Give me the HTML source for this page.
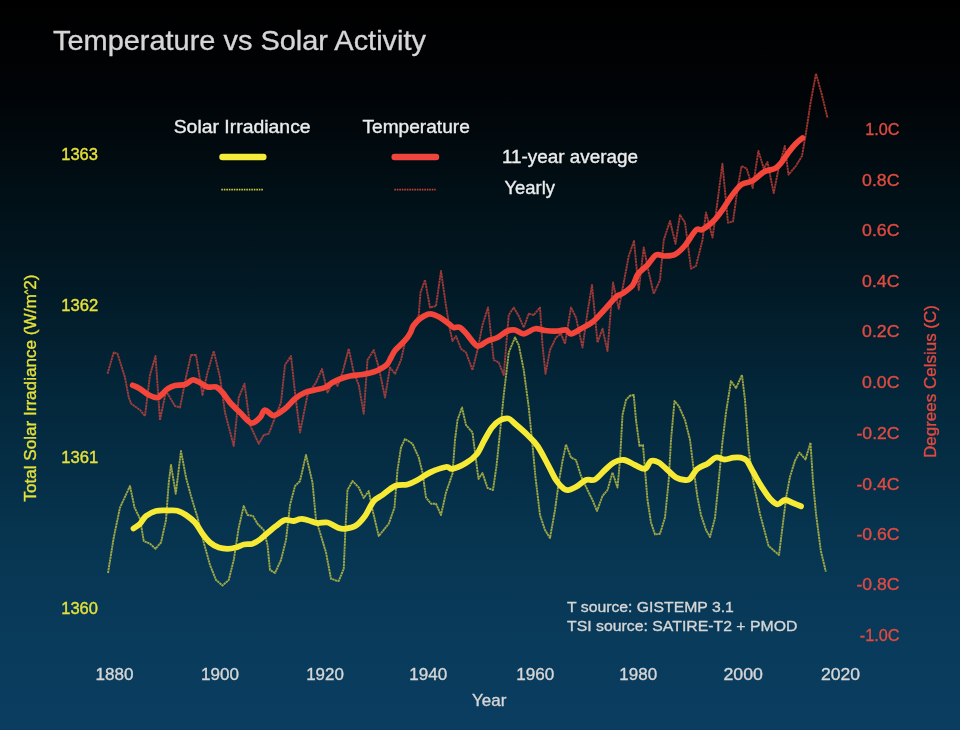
<!DOCTYPE html>
<html lang="en">
<head>
<meta charset="utf-8">
<title>Temperature vs Solar Activity</title>
<style>
html,body{margin:0;padding:0;background:#0b3d60;}
body{width:960px;height:730px;overflow:hidden;}
svg{display:block;font-family:"Liberation Sans",Arial,Helvetica,sans-serif;}
text{stroke-width:0.35px;}
.w{fill:#d6d6d6;stroke:#d6d6d6;}
.l{fill:#ececec;stroke:#ececec;}
.y{fill:#e6e13a;stroke:#e6e13a;}
.r{fill:#e04a40;stroke:#e04a40;}
</style>
</head>
<body>
<svg width="960" height="730" viewBox="0 0 960 730">
<defs>
<linearGradient id="bg" x1="0" y1="0" x2="0" y2="1">
<stop offset="0" stop-color="#000000"/>
<stop offset="0.05" stop-color="#000102"/>
<stop offset="0.13" stop-color="#010407"/>
<stop offset="0.27" stop-color="#011017"/>
<stop offset="0.39" stop-color="#021925"/>
<stop offset="0.53" stop-color="#032639"/>
<stop offset="0.76" stop-color="#073652"/>
<stop offset="0.89" stop-color="#093b5c"/>
<stop offset="1" stop-color="#0a3d60"/>
</linearGradient>
<filter id="soft" x="0" y="0" width="960" height="730" filterUnits="userSpaceOnUse"><feGaussianBlur stdDeviation="0.5"/></filter>
</defs>
<rect x="0" y="0" width="960" height="730" fill="url(#bg)"/>
<text class="w" transform="translate(52.99 49.50) scale(1.0192 1)" font-size="28.4">Temperature vs Solar Activity</text>
<text class="l" transform="translate(173.67 132.60) scale(1.1039 1)" font-size="17.6">Solar Irradiance</text>
<text class="l" transform="translate(362.43 132.60) scale(1.0875 1)" font-size="17.6">Temperature</text>
<text class="l" transform="translate(501.96 162.70) scale(1.0741 1)" font-size="17.6">11-year average</text>
<text class="l" transform="translate(504.48 194.30) scale(1.0471 1)" font-size="17.6">Yearly</text>
<text class="w" transform="translate(471.97 705.80) scale(1.0635 1)" font-size="16">Year</text>
<text class="w" transform="translate(567.05 612.30) scale(1.0184 1)" font-size="15.5">T source: GISTEMP 3.1</text>
<text class="w" transform="translate(567.04 630.90) scale(1.0207 1)" font-size="15.5">TSI source: SATIRE-T2 + PMOD</text>
<text class="y" transform="translate(61.21 159.60) scale(1.0311 1)" font-size="16">1363</text>
<text class="y" transform="translate(61.20 311.10) scale(1.0388 1)" font-size="16">1362</text>
<text class="y" transform="translate(61.20 462.60) scale(1.0388 1)" font-size="16">1361</text>
<text class="y" transform="translate(61.21 614.10) scale(1.0311 1)" font-size="16">1360</text>
<text class="r" transform="translate(865.13 135.30) scale(1.0156 1)" font-size="16">1.0C</text>
<text class="r" transform="translate(862.05 185.80) scale(1.1084 1)" font-size="16">0.8C</text>
<text class="r" transform="translate(862.05 236.30) scale(1.1084 1)" font-size="16">0.6C</text>
<text class="r" transform="translate(862.05 286.80) scale(1.1084 1)" font-size="16">0.4C</text>
<text class="r" transform="translate(862.05 337.30) scale(1.1084 1)" font-size="16">0.2C</text>
<text class="r" transform="translate(862.05 388.00) scale(1.1084 1)" font-size="16">0.0C</text>
<text class="r" transform="translate(856.47 439.20) scale(1.1020 1)" font-size="16">-0.2C</text>
<text class="r" transform="translate(856.47 489.90) scale(1.1020 1)" font-size="16">-0.4C</text>
<text class="r" transform="translate(856.47 540.30) scale(1.1020 1)" font-size="16">-0.6C</text>
<text class="r" transform="translate(856.47 590.00) scale(1.1020 1)" font-size="16">-0.8C</text>
<text class="r" transform="translate(859.74 640.90) scale(1.0172 1)" font-size="16">-1.0C</text>
<text class="w" transform="translate(95.47 679.60) scale(1.0667 1)" font-size="16">1880</text>
<text class="w" transform="translate(201.07 679.60) scale(1.0667 1)" font-size="16">1900</text>
<text class="w" transform="translate(306.18 679.60) scale(1.0578 1)" font-size="16">1920</text>
<text class="w" transform="translate(409.17 679.60) scale(1.0667 1)" font-size="16">1940</text>
<text class="w" transform="translate(516.17 679.60) scale(1.0667 1)" font-size="16">1960</text>
<text class="w" transform="translate(619.37 679.60) scale(1.0607 1)" font-size="16">1980</text>
<text class="w" transform="translate(723.47 679.60) scale(1.1095 1)" font-size="16">2000</text>
<text class="w" transform="translate(820.88 679.60) scale(1.0978 1)" font-size="16">2020</text>
<text class="y" transform="translate(36.00 501.65) rotate(-90) scale(1.0078 1)" font-size="17">Total Solar Irradiance (W/m<tspan font-size="9.5" dy="-5.5">^</tspan><tspan dy="5.5">2)</tspan></text>
<text class="r" transform="translate(935.80 457.95) rotate(-90) scale(0.9997 1)" font-size="17">Degrees Celsius (C)</text>
<line x1="222.5" y1="157" x2="263.3" y2="157" stroke="#f5ec3a" stroke-width="6.5" stroke-linecap="round"/>
<line x1="394.7" y1="157" x2="436" y2="157" stroke="#f0443c" stroke-width="6.5" stroke-linecap="round"/>
<line x1="221.3" y1="189.6" x2="263.7" y2="189.6" stroke="#c9c43a" stroke-width="1.6" stroke-dasharray="1.6 0.9"/>
<line x1="394.3" y1="189.6" x2="435.7" y2="189.6" stroke="#c4413a" stroke-width="1.6" stroke-dasharray="1.6 0.9"/>
<g filter="url(#soft)">
<polyline points="108,573 113.75,537.5 120,507.5 130,486 134.5,507.5 140,518.75 143.75,541 150,543.75 155.5,548.75 161,542.5 166,520 168.75,482.5 171,465 175.75,493.75 181,451 186,477.5 191,496 197.5,517.5 203.75,542.5 210,565 216,580 222.5,585.5 228.75,580 233.75,560 238.75,527.5 243.75,506 247.5,515 253,516 257.5,523.75 263.75,530 267.5,545 270,570 275,573 281,560 286,540 290,505 295,486 300,481 306,455 312.5,482.5 316,520 320,532.5 326,552.5 331,578.75 336,580.5 338.75,581 343.75,568.75 345.5,527.5 347.5,490 352.5,481 358.75,487.5 363.75,498 368.75,491 372.5,510 378.75,536 388.75,523.75 394.5,507.5 397.5,470 401,447.5 405,439 412.5,443.75 418.75,457.5 422.5,472.5 426,497.5 431,503.75 436,503.75 441,515 446,492.5 452.5,473.75 455,440 457.5,420 462,407.5 466,425 472.5,432.5 476,460 478.5,479 482.5,473 487.5,488 493,490 496.5,466 500,432.5 503.75,395 508.75,352.5 515,337.5 518.75,345 523.75,370 528.75,407.5 532.5,445 535.5,477.5 540,515 545,530 550,538 555,510 558.75,482.5 562.5,461 566,444.5 571,457.5 576,460 581,476 587.5,490 592.5,500 597,511 602.5,496 607.5,490 612.5,472.5 617.5,487.5 620,460 622.5,415 626,400 630,395.75 633.75,395 636,420 639.5,446 643,445 645,470 647.5,500 651,522.5 655,534.5 660,533.75 665,517.5 668.75,480 671,440 674.5,401 678.75,406 685,420 690,440 693.75,470 697.5,497.5 701,515 706,530 710,537 715,518 718.6,482 722.3,443.5 726,412.5 731,381 736,388 742,375 745,400 748.75,450 753.5,483 760,514 768.5,545.8 774,550.7 779,555 782.6,526 786.3,496.4 790,476.7 795,460.7 799.4,452.5 805.5,459.5 810.5,442.7 813,481.6 816,513.7 820.8,550.7 825.8,571.6" fill="none" stroke="#c3c444" stroke-opacity="0.8" stroke-width="1.9" stroke-dasharray="2.4 0.45" stroke-linejoin="round"/>
<polyline points="107.5,373.75 113.75,352.5 117.5,353.75 125,377.5 128.75,397.5 131.25,403.75 140,410 145,416 150,375 155.5,356 160,420 166,391 175,406 180,407.5 186,377.5 191,355 196,355 202.5,395 207.5,372.5 213.75,351 220,377.5 225,412.5 233.75,446 238.75,397.5 244.5,383.75 250,425 258.75,443.75 263.75,435 268.75,433.75 275,417.5 281,402.5 285,365 291,356 295,392.5 300,432.5 307.5,395 316,382.5 322,369 327.5,392.5 333.75,380 337.5,386 342.5,372.5 348.75,348.75 353.75,372.5 358.75,385 363.75,413.75 367.5,360 373.75,350 378.75,367.5 385,397.5 390,367.5 395,373.75 401,360 405,342.5 415,322.5 418.75,315 420.5,292.5 425,280 430,307.5 436,306 441,271 446,306 450,330 452.5,341 456,336 461,348.75 466,352.5 472.5,370 477.5,350 482.5,325 488,307.5 493.75,360 498.75,362.5 503.75,375 508.75,315 513.75,307.5 518.75,316 523.75,327.5 528.75,313.75 533.75,315 540,307.5 542.5,345 545.5,373.75 550,350 556,337.5 561,333.75 565,343.75 571,307.5 576,317.5 582.5,347.5 587.5,312.5 592,285 597.5,342.5 602.5,328.75 607.5,351 613,282.5 618.75,308.75 623.75,282.5 628.75,256 634,241 638.75,290 643.75,247.5 648.75,272.5 653.75,293.75 660,280 663.75,240 670,221 675.5,243.75 680,215 685,222.5 691,268.75 696,266 702.5,240 706,212.5 712.5,237.5 717,205.5 722.4,163.6 728,222.7 733,221.5 738,185.8 741.6,166 746.6,168.5 752.7,188 758.4,151 763.8,168.5 767.5,162 773.7,193 778.6,168.5 784.8,146 788.5,174.7 795.9,166 802,156 805.8,134 810.7,102 816,73.6 821.8,94.5 827.5,118" fill="none" stroke="#d4433c" stroke-opacity="0.75" stroke-width="1.9" stroke-dasharray="2.4 0.45" stroke-linejoin="round"/>
<path d="M133.5,528.5C134.6,527.7 137.9,525.8 140.0,523.8C142.1,521.7 143.3,518.1 146.0,516.0C148.7,513.9 152.4,511.9 156.0,511.0C159.6,510.1 163.9,510.5 167.5,510.5C171.1,510.5 174.4,510.0 177.5,510.8C180.6,511.5 183.1,513.0 186.0,515.0C188.9,517.0 192.2,519.4 195.0,522.5C197.8,525.6 200.0,530.4 202.5,533.8C205.0,537.1 207.3,540.2 210.0,542.5C212.7,544.8 215.8,546.5 218.8,547.5C221.7,548.5 224.6,548.8 227.5,548.8C230.4,548.8 233.3,548.2 236.0,547.5C238.7,546.8 241.0,545.1 243.8,544.5C246.5,543.9 249.8,544.6 252.5,543.8C255.2,542.9 257.5,541.3 260.0,539.5C262.5,537.7 264.8,535.2 267.5,533.0C270.2,530.8 273.1,528.2 276.0,526.0C278.9,523.8 282.0,520.8 285.0,520.0C288.0,519.2 291.1,521.2 293.8,521.0C296.4,520.8 298.5,518.8 301.0,518.8C303.5,518.7 306.0,519.8 308.8,520.5C311.5,521.2 314.4,522.7 317.5,523.0C320.6,523.3 324.2,521.8 327.5,522.5C330.8,523.2 334.6,526.5 337.5,527.5C340.4,528.5 341.9,529.1 345.0,528.8C348.1,528.4 352.7,527.6 356.0,525.5C359.3,523.4 362.0,520.1 365.0,516.0C368.0,511.9 370.8,504.5 373.8,501.0C376.7,497.5 379.0,497.5 382.5,495.0C386.0,492.5 390.8,487.8 395.0,486.0C399.2,484.2 403.8,485.5 407.5,484.5C411.2,483.5 413.8,482.0 417.5,480.0C421.2,478.0 425.2,474.7 430.0,472.5C434.8,470.3 442.2,467.6 446.0,467.0C449.8,466.4 449.2,469.4 452.5,468.8C455.8,468.1 462.0,465.4 466.0,463.0C470.0,460.6 473.4,458.3 476.5,454.5C479.6,450.7 481.9,444.5 484.5,440.0C487.1,435.5 489.4,430.8 492.0,427.5C494.6,424.2 497.2,421.8 500.0,420.3C502.8,418.8 506.0,417.9 508.5,418.5C511.0,419.1 511.8,421.0 515.0,423.8C518.2,426.5 523.8,431.3 527.5,435.0C531.2,438.7 534.2,441.2 537.5,446.0C540.8,450.8 544.4,458.1 547.5,463.8C550.6,469.4 553.3,475.8 556.0,480.0C558.7,484.2 561.6,487.1 563.8,488.8C565.9,490.4 566.5,490.5 568.8,490.0C571.0,489.5 574.6,487.7 577.5,486.0C580.4,484.3 583.1,481.1 586.0,480.0C588.9,478.9 591.8,481.2 595.0,479.5C598.2,477.8 601.9,472.8 605.0,470.0C608.1,467.2 610.6,464.2 613.8,462.5C616.9,460.8 620.2,459.6 623.8,460.0C627.3,460.4 631.5,463.5 635.0,465.0C638.5,466.5 642.3,469.4 645.0,468.8C647.7,468.1 648.7,462.0 651.0,461.0C653.3,460.0 656.0,461.0 658.8,462.5C661.5,464.0 664.6,467.5 667.5,470.0C670.4,472.5 673.1,475.8 676.0,477.5C678.9,479.2 682.7,479.8 685.0,480.0C687.3,480.2 687.9,480.6 690.0,478.8C692.1,476.9 694.6,471.2 697.5,468.8C700.4,466.2 704.4,465.6 707.5,463.8C710.6,461.9 713.1,458.2 716.0,457.5C718.9,456.8 721.8,459.5 724.7,459.5C727.6,459.5 730.6,458.0 733.3,457.7C736.0,457.4 738.5,457.2 740.7,457.7C743.0,458.2 744.8,458.3 746.8,460.7C748.8,463.1 750.5,467.5 753.0,471.8C755.5,476.1 758.7,482.1 761.6,486.6C764.5,491.1 767.6,496.1 770.3,499.0C773.0,501.9 775.2,504.1 777.7,504.3C780.2,504.5 782.3,500.2 785.0,500.0C787.7,499.8 791.0,502.2 793.7,503.3C796.4,504.4 799.8,505.8 801.0,506.3" fill="none" stroke="#f7ea36" stroke-width="5.8" stroke-linecap="round" stroke-linejoin="round"/>
<path d="M132.6,385.3C133.8,385.9 137.3,387.1 140.0,388.8C142.7,390.4 145.8,393.5 148.8,395.0C151.7,396.5 155.2,397.7 157.5,397.5C159.8,397.3 160.8,395.2 162.5,393.8C164.2,392.3 165.4,390.1 167.5,388.8C169.6,387.4 172.1,386.2 175.0,385.5C177.9,384.8 182.1,385.4 185.0,384.5C187.9,383.6 190.2,380.4 192.5,380.0C194.8,379.6 196.2,380.8 198.8,382.0C201.2,383.2 204.6,386.2 207.5,387.0C210.4,387.8 213.8,386.1 216.2,387.0C218.8,387.9 220.2,389.9 222.5,392.5C224.8,395.1 227.1,399.2 230.0,402.5C232.9,405.8 236.5,409.1 240.0,412.5C243.5,415.9 247.9,422.2 251.2,423.0C254.6,423.8 257.7,419.7 260.0,417.5C262.3,415.3 262.7,410.3 265.0,410.0C267.3,409.7 270.4,415.7 273.8,415.5C277.1,415.3 281.5,411.5 285.0,408.8C288.5,406.0 291.7,401.5 295.0,398.8C298.3,396.0 301.7,394.0 305.0,392.5C308.3,391.0 311.7,390.8 315.0,390.0C318.3,389.2 322.1,388.8 325.0,387.5C327.9,386.2 330.0,383.9 332.5,382.5C335.0,381.1 337.1,380.1 340.0,379.0C342.9,377.9 346.2,376.8 350.0,376.0C353.8,375.2 358.3,375.2 362.5,374.5C366.7,373.8 371.9,372.5 375.0,371.5C378.1,370.5 379.0,369.7 381.0,368.5C383.0,367.3 385.3,366.3 387.0,364.5C388.7,362.7 389.7,359.8 391.0,357.5C392.3,355.2 393.2,352.8 395.0,350.5C396.8,348.2 400.0,345.6 402.0,343.5C404.0,341.4 405.6,339.8 407.0,338.0C408.4,336.2 409.4,334.6 410.5,332.5C411.6,330.4 411.8,327.9 413.5,325.5C415.2,323.1 418.2,320.0 421.0,318.0C423.8,316.0 426.8,313.8 430.0,313.8C433.2,313.7 436.9,315.8 440.0,317.5C443.1,319.2 446.5,322.1 448.8,323.8C451.0,325.4 451.9,326.9 453.8,327.5C455.6,328.1 457.7,326.2 460.0,327.5C462.3,328.8 464.6,331.9 467.5,335.0C470.4,338.1 474.2,345.0 477.5,346.0C480.8,347.0 484.2,342.4 487.5,341.0C490.8,339.6 494.2,339.2 497.5,337.5C500.8,335.8 504.6,332.2 507.5,331.0C510.4,329.8 512.3,329.5 515.0,330.0C517.7,330.5 520.4,334.0 523.8,333.8C527.1,333.5 531.5,329.3 535.0,328.8C538.5,328.2 541.2,330.1 545.0,330.5C548.8,330.9 554.0,331.1 557.5,331.0C561.0,330.9 563.8,329.5 566.0,330.0C568.2,330.5 568.5,334.0 571.0,333.8C573.5,333.5 577.4,330.7 581.0,328.8C584.6,326.8 588.7,325.0 592.5,322.0C596.3,319.0 599.8,314.7 603.8,310.5C607.7,306.3 612.9,299.6 616.0,296.8C619.1,294.0 619.8,295.4 622.5,293.5C625.2,291.6 629.9,288.8 632.5,285.5C635.1,282.2 635.5,277.4 638.0,274.0C640.5,270.6 644.5,268.2 647.5,265.0C650.5,261.8 653.1,256.5 656.0,255.0C658.9,253.5 661.8,256.1 665.0,256.0C668.2,255.9 671.7,256.2 675.0,254.5C678.3,252.8 681.5,249.6 685.0,245.5C688.5,241.4 693.1,232.7 696.0,230.0C698.9,227.3 699.4,231.2 702.5,229.5C705.6,227.8 711.1,223.4 714.5,220.0C717.9,216.6 720.1,213.1 723.0,209.0C725.9,204.9 728.7,199.7 731.8,195.6C734.9,191.5 738.1,187.0 741.6,184.5C745.1,182.0 749.0,182.9 752.7,180.8C756.4,178.7 760.1,174.1 763.8,172.0C767.5,169.9 772.1,170.0 775.0,168.5C777.9,167.0 778.8,165.7 781.0,163.0C783.2,160.3 786.0,155.8 788.5,152.5C791.0,149.2 793.7,145.9 796.0,143.5C798.3,141.1 801.4,138.9 802.5,138.0" fill="none" stroke="#f4443a" stroke-width="5.7" stroke-linecap="round" stroke-linejoin="round"/>
</g>
</svg>
</body>
</html>
